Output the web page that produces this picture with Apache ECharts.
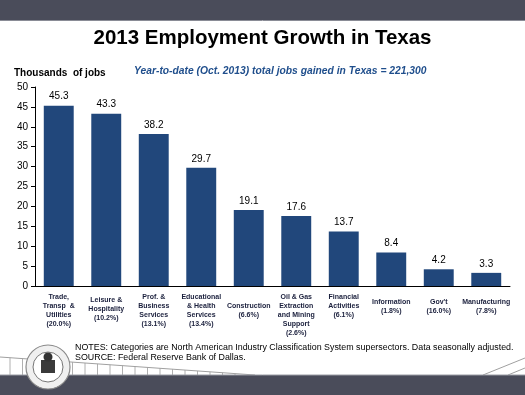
<!DOCTYPE html>
<html><head><meta charset="utf-8">
<style>html,body{margin:0;padding:0;background:#fff}#c{width:525px;height:395px}</style>
<script src="https://cdn.jsdelivr.net/npm/echarts@6/dist/echarts.min.js"></script>
</head><body><div id="c"></div>
<script>
const categories = [
  'Trade,\nTransp  &\nUtilities\n(20.0%)',
  'Leisure &\nHospitality\n(10.2%)',
  'Prof. &\nBusiness\nServices\n(13.1%)',
  'Educational\n& Health\nServices\n(13.4%)',
  'Construction\n(6.6%)',
  'Oil & Gas\nExtraction\nand Mining\nSupport\n(2.6%)',
  'Financial\nActivities\n(6.1%)',
  'Information\n(1.8%)',
  "Gov't\n(16.0%)",
  'Manufacturing\n(7.8%)'
];
const labelOffsets = [1, 4, 1, 1, 10, 1, 1, 6, 6, 6];
const jobsGained = [45.3, 43.3, 38.2, 29.7, 19.1, 17.6, 13.7, 8.4, 4.2, 3.3];
const yTicks = [0, 5, 10, 15, 20, 25, 30, 35, 40, 45, 50];

const chart = echarts.init(document.getElementById('c'), null, {renderer: 'canvas'});
const fenceGraphics = [];
const fx0 = 0, fy0 = 357, fx1 = 255, fy1 = 375;
for (let x = 10; x < 250; x += 12.5) {
  if (x > 25 && x < 72) continue;
  const yTop = fy0 + (fy1 - fy0) * (x - fx0) / (fx1 - fx0);
  fenceGraphics.push({type: 'line', shape: {x1: x, y1: yTop, x2: x, y2: 375}, style: {stroke: '#b0b0b0', lineWidth: 1}});
}
fenceGraphics.push({type: 'line', shape: {x1: fx0, y1: fy0, x2: fx1, y2: fy1}, style: {stroke: '#a0a0a0', lineWidth: 1}});

chart.setOption({
  animation: false,
  textStyle: {fontFamily: 'Liberation Sans, Arial, sans-serif'},
  title: [
    {text: '2013 Employment Growth in Texas', left: 'center', top: 28, padding: 0,
     textStyle: {fontSize: 20.5, fontWeight: 'bold', color: '#000', fontFamily: 'Liberation Sans, Arial'}},
    {text: 'Year-to-date (Oct. 2013) total jobs gained in Texas = 221,300', left: 134, top: 66, padding: 0,
     textStyle: {fontSize: 10.3, fontWeight: 'bold', fontStyle: 'italic', color: '#1f4e8c', fontFamily: 'Liberation Sans, Arial'}},
    {text: 'Thousands  of jobs', left: 14, top: 68, padding: 0,
     textStyle: {fontSize: 10, fontWeight: 'bold', color: '#000', fontFamily: 'Liberation Sans, Arial'}}
  ],
  grid: {left: 35, right: 15, top: 87, bottom: 109, containLabel: false},
  xAxis: {
    type: 'category',
    data: categories.map((c, i) => ({value: c, textStyle: {padding: [labelOffsets[i], 0, 0, 0]}})),
    axisLine: {lineStyle: {color: '#000', width: 1}},
    axisTick: {show: false},
    axisLabel: {interval: 0, fontSize: 7, fontWeight: 'bold', color: '#1a1f3c', lineHeight: 9, margin: 6,
      fontFamily: 'Liberation Sans, Arial'}
  },
  yAxis: {
    type: 'value', min: 0, max: 50, interval: 5,
    axisLine: {show: true, lineStyle: {color: '#000'}},
    axisTick: {show: true, length: 4, lineStyle: {color: '#000'}},
    splitLine: {show: false},
    axisLabel: {fontSize: 10, color: '#000', margin: 7, fontFamily: 'Liberation Sans, Arial'}
  },
  series: [{
    type: 'bar', data: jobsGained, barCategoryGap: '37%',
    itemStyle: {color: '#21477b'},
    label: {show: true, position: 'top', fontSize: 10, color: '#000', distance: 4,
      formatter: p => p.value.toFixed(1), fontFamily: 'Liberation Sans, Arial'}
  }],
  graphic: [
    {type: 'rect', shape: {x: 0, y: 0, width: 525, height: 20}, style: {fill: '#4a4c5a'}},
    {type: 'line', shape: {x1: 0, y1: 20.5, x2: 525, y2: 20.5}, style: {stroke: '#8a8c96', lineWidth: 1}},
    ...fenceGraphics,
    {type: 'line', shape: {x1: 483, y1: 375, x2: 525, y2: 358}, style: {stroke: '#a0a0a0', lineWidth: 1}},
    {type: 'line', shape: {x1: 508, y1: 375, x2: 525, y2: 368}, style: {stroke: '#a0a0a0', lineWidth: 1}},
    {type: 'rect', shape: {x: 0, y: 375, width: 525, height: 20}, style: {fill: '#4a4c5a'}},
    {type: 'line', shape: {x1: 0, y1: 375, x2: 525, y2: 375}, style: {stroke: '#9a9ca4', lineWidth: 1}},
    {type: 'circle', shape: {cx: 48, cy: 367, r: 22}, style: {fill: '#f0f0f0', stroke: '#8a8a8a', lineWidth: 1.2}},
    {type: 'circle', shape: {cx: 48, cy: 367, r: 15}, style: {fill: '#fff', stroke: '#777', lineWidth: 1}},
    {type: 'rect', shape: {x: 41, y: 360, width: 14, height: 13}, style: {fill: '#3a3a3a'}},
    {type: 'circle', shape: {cx: 48, cy: 357, r: 4.5}, style: {fill: '#333'}},
    {type: 'text', x: 75, y: 342, scaleX: 0.925, originX: 0, originY: 0,
      style: {text: 'NOTES: Categories are North American Industry Classification System supersectors. Data seasonally adjusted.\nSOURCE: Federal Reserve Bank of Dallas.',
      font: '9.6px "Liberation Sans", Arial', fill: '#000', lineHeight: 10.5}}
  ]
});
</script></body></html>
